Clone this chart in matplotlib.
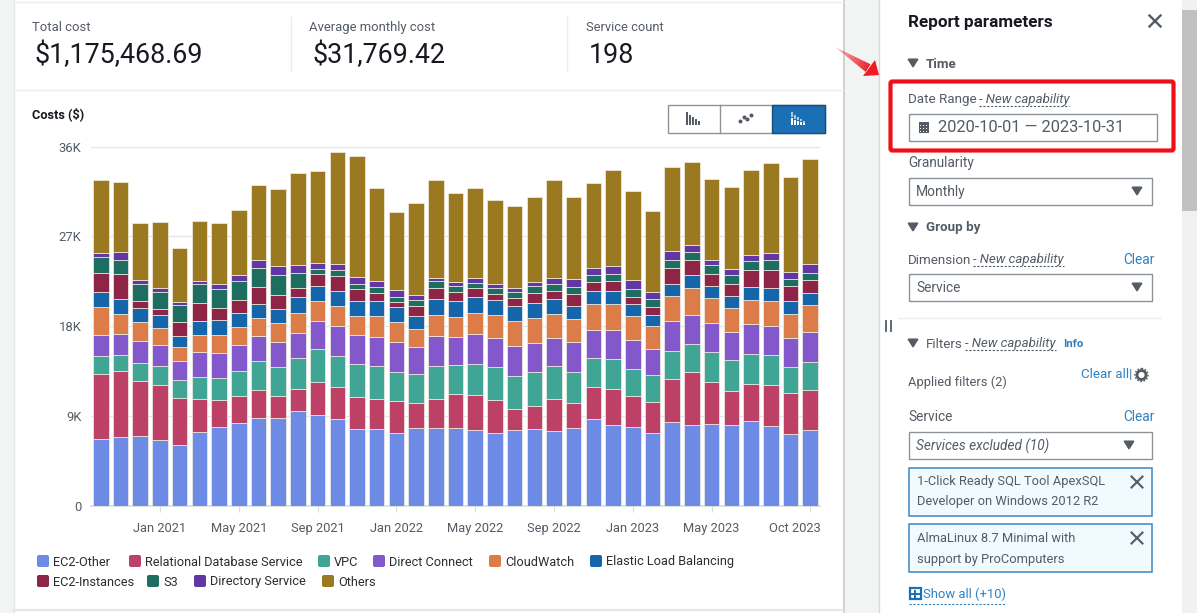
import matplotlib
matplotlib.use("Agg")
import matplotlib.pyplot as plt
import numpy as np
from matplotlib.patches import Rectangle, Polygon, FancyBboxPatch, Circle
from matplotlib.transforms import ScaledTranslation

plt.rcParams['font.family'] = ['Roboto', 'DejaVu Sans']

# monthly costs, Oct 2020 .. Oct 2023
months = ["Oct 2020", "Nov 2020", "Dec 2020", "Jan 2021", "Feb 2021", "Mar 2021", "Apr 2021", "May 2021",
          "Jun 2021", "Jul 2021", "Aug 2021", "Sep 2021", "Oct 2021", "Nov 2021", "Dec 2021", "Jan 2022",
          "Feb 2022", "Mar 2022", "Apr 2022", "May 2022", "Jun 2022", "Jul 2022", "Aug 2022", "Sep 2022",
          "Oct 2022", "Nov 2022", "Dec 2022", "Jan 2023", "Feb 2023", "Mar 2023", "Apr 2023", "May 2023",
          "Jun 2023", "Jul 2023", "Aug 2023", "Sep 2023", "Oct 2023"]
ec2_other = [6670, 6870, 7000, 6570, 6100, 7370, 7900, 8300, 8830, 8830, 9470, 9070, 8670, 7730, 7700, 7270, 7770, 7770, 7770,
             7600, 7270, 7570, 7670, 7470, 7830, 8700, 8070, 7900, 7330, 8400, 8100, 8200, 8100, 8500, 8000, 7200, 7630]
rds = [6570, 6600, 5470, 5570, 4700, 3370, 2730, 2730, 2770, 2200, 2270, 3370, 3200, 3200, 3000, 3230, 2570, 2970, 3470,
       3500, 3370, 2170, 2370, 3230, 2470, 3170, 3630, 3130, 3030, 4330, 5270, 4230, 3430, 3730, 4130, 4100, 4000]
vpc = [1770, 1630, 1830, 1870, 1770, 2130, 2170, 2470, 2930, 2870, 3070, 3230, 3170, 3300, 3300, 2930, 2900, 3300, 2830,
       3130, 3230, 3270, 3370, 3270, 3130, 2900, 3000, 2630, 2700, 2770, 2870, 2930, 3070, 3000, 3000, 2630, 2800]
direct_connect = [2130, 2100, 2170, 2130, 1900, 2530, 2500, 2570, 2430, 2530, 2500, 2830, 2930, 2870, 2930, 2930, 2630, 2930, 2830,
                  2970, 2900, 2970, 2930, 2830, 2930, 2830, 2930, 2930, 2630, 2970, 2870, 2930, 2830, 2970, 2930, 2870, 2930]
cloudwatch = [2730, 2000, 1900, 1700, 1430, 1700, 1830, 1800, 1870, 1870, 1970, 2030, 2070, 1930, 2070, 2030, 1830, 2170, 2000,
              2130, 2330, 2530, 2500, 2430, 2330, 2600, 2630, 2430, 2270, 2570, 2670, 2570, 2400, 2400, 2470, 2400, 2730]
elb = [1500, 1470, 1430, 1230, 1130, 1370, 1500, 1400, 1400, 1400, 1600, 1500, 1500, 1530, 1470, 1500, 1330, 1530, 1570,
       1570, 1500, 1470, 1500, 1500, 1370, 1300, 1270, 1200, 1130, 1200, 1330, 1200, 1200, 1300, 1330, 1330, 1230]
ec2_instances = [2000, 2530, 700, 600, 1430, 1800, 1230, 1300, 1700, 1430, 970, 1170, 1530, 1170, 830, 500, 1000, 1100, 930,
                 870, 570, 870, 970, 770, 1200, 870, 1000, 700, 830, 1570, 1500, 1200, 1230, 1730, 1800, 1500, 1270]
s3 = [1600, 1470, 1700, 1770, 1700, 1900, 1870, 1930, 1900, 1970, 1500, 570, 600, 530, 570, 570, 630, 700, 630,
      570, 600, 600, 730, 700, 700, 730, 730, 770, 770, 830, 830, 830, 870, 870, 970, 730, 770]
directory = [400, 730, 400, 370, 300, 400, 470, 600, 770, 900, 800, 600, 530, 630, 630, 630, 430, 400, 370,
             470, 430, 400, 330, 600, 730, 770, 800, 970, 770, 870, 700, 530, 570, 600, 700, 670, 830]
others = [7300, 7030, 5730, 6670, 5400, 6000, 6170, 6570, 7570, 7700, 9170, 9170, 11200, 12170, 9370, 7800, 9230, 9800, 8970,
          9030, 8470, 8170, 8600, 9870, 8270, 8430, 9630, 8830, 8030, 8400, 8270, 8130, 8230, 8500, 9030, 9530, 10570]

names = ["EC2-Other", "Relational Database Service", "VPC", "Direct Connect", "CloudWatch",
         "Elastic Load Balancing", "EC2-Instances", "S3", "Directory Service", "Others"]
colors = ["#6d8ae4", "#bd4067", "#40a595", "#8358cb", "#dc7c48", "#1565aa", "#8f2546", "#1d6d60", "#6236a5", "#9a7920"]
series = [ec2_other, rds, vpc, direct_connect, cloudwatch, elb, ec2_instances, s3, directory, others]
tick_months = ["Jan 2021", "May 2021", "Sep 2021", "Jan 2022", "May 2022", "Sep 2022", "Jan 2023", "May 2023", "Oct 2023"]
y_ticks = [0, 9000, 18000, 27000, 36000]
y_labels = ["0", "9K", "18K", "27K", "36K"]

W, H = 1200, 613
DARK = "#16191f"
GREY = "#545b64"
BLUE = "#2f80c0"
EDGE = "#8d9499"

fig = plt.figure(figsize=(W / 100, H / 100), dpi=100, facecolor="white")

# whole-figure axes in pixel coordinates for the console around the chart
ui = fig.add_axes([0, 0, 1, 1])
ui.set_xlim(0, W)
ui.set_ylim(H, 0)
ui.axis("off")


def txt(x, y, s, size=10, color=GREY, **kw):
    ui.text(x, y + 1, s, fontsize=size, color=color, va="center", **kw)


def box(x0, y0, x1, y1, face="white", edge="none", lw=1, z=1):
    ui.add_patch(Rectangle((x0, y0), x1 - x0, y1 - y0, facecolor=face, edgecolor=edge, linewidth=lw, zorder=z))


def hline(x0, x1, y, color="#eaeded", lw=1, **kw):
    ui.plot([x0, x1], [y, y], color=color, lw=lw, **kw)


def tri(x, y, size=4.8, color="#545b64"):
    ui.add_patch(Polygon([(x - size, y - size * 0.8), (x + size, y - size * 0.8), (x, y + size * 0.8)],
                         closed=True, color=color, zorder=3))


def cross(x, y, r=5.5, color=GREY, lw=1.5):
    ui.plot([x - r, x + r], [y - r, y + r], color=color, lw=lw, zorder=3)
    ui.plot([x - r, x + r], [y + r, y - r], color=color, lw=lw, zorder=3)


# page background
box(0, 0, 14, H, "#f2f3f3", z=0)
box(843, 0, 879, H, "#f2f3f3", z=0)
ui.plot([14, 14], [0, H], color="#e4e7e7", lw=1)
ui.plot([843.5, 843.5], [0, H], color="#c8cccc", lw=1.2)
ui.plot([879, 879], [0, H], color="#d5dbdb", lw=1)
hline(14, 843, 1.5)
hline(14, 843, 90)
hline(14, 843, 610, color="#e4e7e7", lw=1.5)

# scrollbar
box(1182, 0, 1197, H, "#f1f1f1", z=0)
box(1182, 10, 1197, 211, "#c1c1c1", z=1)

# summary row
ui.plot([291, 291], [17, 71], color="#eaeded", lw=1)
ui.plot([566.5, 566.5], [17, 71], color="#eaeded", lw=1)
txt(32, 26.5, "Total cost", 9.4)
txt(309, 26.5, "Average monthly cost", 9.4)
txt(586, 26.5, "Service count", 9.3)
txt(35, 54.5, "$1,175,468.69", 19.4, DARK)
txt(312, 54.5, "$31,769.42", 19.4, DARK)
txt(589, 54.5, "198", 19.4, DARK)
txt(32, 113.5, "Costs ($)", 9.2, DARK, fontweight="bold")

# chart type toggle
box(667.5, 104.5, 825, 133, "white", EDGE)
ui.plot([720, 720], [104.5, 133], color=EDGE, lw=1)
box(772, 104.5, 825, 133, "#1a6fb5", "#14507f")
for dx, h in zip([0, 3, 6, 9, 12], [13, 10, 8, 6, 4]):
    box(686 + dx, 125 - h, 688 + dx, 125, "#545b64", z=3)
    box(791 + dx, 125 - h * 0.55, 793 + dx, 125, "white", z=3)
    box(791 + dx, 125 - h, 793 + dx, 125 - h * 0.6, "#a8cbe6", z=3)
ui.scatter([740, 744, 747, 751], [121, 117, 119, 115], s=3.5, color="#545b64", zorder=3)

# legend row, manual because the rows do not share columns
legend_pos = [(37, 561), (129, 561), (318, 561), (373, 561), (489, 561), (590, 561),
              (37, 581), (147, 581), (194, 581), (322, 581)]
for (lx, ly), name, col in zip(legend_pos, names, colors):
    ui.add_patch(FancyBboxPatch((lx + 1, ly - 5), 10, 10, boxstyle="round,pad=1,rounding_size=2",
                                facecolor=col, edgecolor="none", zorder=3))
    txt(lx + 16, ly, name, 9.2, "#2a2e33")

# right panel
txt(908, 21, "Report parameters", 12.3, DARK, fontweight="bold")
cross(1155, 21, r=5.5, color=GREY, lw=1.7)

tri(913, 63)
txt(926, 63, "Time", 9.6, GREY, fontweight="bold")
txt(908, 99, "Date Range", 9.6)
txt(979, 99, "- New capability", 9.5, style="italic")
hline(979, 1069, 106, color=GREY, lw=0.8, linestyle=(0, (2, 1.5)))
box(908.5, 113.5, 1156.5, 141, "white", EDGE)
box(918.5, 122, 929, 133, "#545b64", z=3)
for gx in range(920, 928, 3):
    for gy in range(125, 132, 3):
        box(gx, gy, gx + 1.4, gy + 1.4, "white", z=4)
txt(938, 127, "2020-10-01 \u2014 2023-10-31", 11.8)
ui.add_patch(FancyBboxPatch((890.5, 81.5), 283, 69, boxstyle="round,pad=0,rounding_size=2",
                            facecolor="none", edgecolor="#ee0f16", linewidth=3, zorder=5))

txt(908, 162, "Granularity", 9.8)
box(908.5, 177.5, 1152, 205, "white", EDGE)
txt(916, 191, "Monthly", 10)
tri(1137, 191)

tri(913, 227)
txt(926, 227, "Group by", 9.6, GREY, fontweight="bold")
txt(908, 259, "Dimension", 9.6)
txt(973, 259, "- New capability", 9.5, style="italic")
hline(973, 1064, 266, color=GREY, lw=0.8, linestyle=(0, (2, 1.5)))
txt(1123, 259, "Clear", 9.8, BLUE)
box(908.5, 273.5, 1152, 301, "white", EDGE)
txt(916, 287, "Service", 9.8)
tri(1137, 287)
hline(899, 1161, 318)

ui.plot([886, 886], [321, 331], color=GREY, lw=1.3)
ui.plot([890.5, 890.5], [321, 331], color=GREY, lw=1.3)

tri(913, 343)
txt(926, 343, "Filters", 9.6)
txt(965, 343, "- New capability", 9.5, style="italic")
hline(965, 1056, 350, color=GREY, lw=0.8, linestyle=(0, (2, 1.5)))
txt(1063, 343, "Info", 8.2, BLUE, fontweight="bold")
txt(908, 381, "Applied filters (2)", 9.3)
txt(1081, 374, "Clear all|", 9.6, BLUE)
ui.add_patch(Circle((1141.5, 375), 4.5, facecolor="none", edgecolor=GREY, lw=2, zorder=3))
ui.add_patch(Circle((1141.5, 375), 6.5, facecolor="none", edgecolor=GREY, lw=1, linestyle=(0, (1.2, 1.2)), zorder=3))

txt(908, 416, "Service", 9.8)
txt(1123, 416, "Clear", 9.8, BLUE)
box(908.5, 432, 1152, 459, "white", EDGE)
txt(916, 445, "Services excluded (10)", 9.8, style="italic")
tri(1129, 445)

box(908.5, 468, 1152, 516, "#f1faff", "#4a90c8", lw=1.2)
txt(917, 481, "1-Click Ready SQL Tool ApexSQL", 9.3)
txt(917, 501, "Developer on Windows 2012 R2", 9.3)
cross(1137, 482)
box(908.5, 524, 1152, 572, "#f1faff", "#4a90c8", lw=1.2)
txt(917, 538, "AlmaLinux 8.7 Minimal with", 9.3)
txt(917, 558, "support by ProComputers", 9.3)
cross(1137, 538)

box(909.5, 588, 921, 599, "white", "#1a6fb5", lw=1.6, z=3)
hline(912, 918.5, 593.5, color="#1a6fb5", lw=1.4, zorder=4)
ui.plot([915.3, 915.3], [590.5, 596.5], color="#1a6fb5", lw=1.4, zorder=4)
txt(923, 593, "Show all (+10)", 9.4, BLUE)
hline(909, 1005, 604, color=BLUE, lw=0.8, linestyle=(0, (2, 1.5)))

# red arrow, fading towards the tail
steps = 16
for i in range(steps):
    f0, f1 = i / steps, (i + 1) / steps
    x0, y0 = 835 + 33 * f0, 47 + 21 * f0
    x1, y1 = 835 + 33 * f1, 47 + 21 * f1
    w0, w1 = 4.5 * f0, 4.5 * f1
    ui.add_patch(Polygon([(x0 - w0 * 0.54, y0 + w0 * 0.84), (x0 + w0 * 0.54, y0 - w0 * 0.84),
                          (x1 + w1 * 0.54, y1 - w1 * 0.84), (x1 - w1 * 0.54, y1 + w1 * 0.84)],
                         closed=True, facecolor="#ee1c25", edgecolor="none", alpha=0.2 + 0.8 * f1, zorder=5))
ui.add_patch(Polygon([(879, 75), (863, 76), (875, 60)], closed=True, facecolor="#ee1c25", edgecolor="none", zorder=5))

# the chart itself
left, right, top, bottom = 91, 820, 146.5, 505.7
ax = fig.add_axes([left / W, 1 - bottom / H, (right - left) / W, (bottom - top) / H])
ax.patch.set_alpha(0)

x = np.arange(len(months))
base = np.zeros(len(months))
for values, col in zip(series, colors):
    ax.bar(x, values, bottom=base, width=0.79, color=col, edgecolor="#f4f0e6", linewidth=0.5, zorder=3)
    base = base + np.array(values)

ax.set_xlim(-0.5, 36.5)
ax.set_ylim(0, 35950)
ax.set_yticks(y_ticks)
ax.set_yticklabels(y_labels, fontsize=9.4, color=GREY)
ax.set_xticks([months.index(m) for m in tick_months])
ax.set_xticklabels(tick_months, fontsize=9.3, color=GREY)
ax.tick_params(axis="y", length=0, pad=7)
ax.tick_params(axis="x", length=4, width=0.8, color="#d5dbdb", pad=7.5)
ax.grid(axis="y", color="#e3e7e7", lw=1, zorder=0)
ax.set_axisbelow(True)
for side in ["top", "right", "left"]:
    ax.spines[side].set_visible(False)
ax.spines["bottom"].set_color("#d5dbdb")
ax.spines["bottom"].set_linewidth(1.2)

# last label is pushed left so it stays inside the plot
last = ax.get_xticklabels()[-1]
last.set_transform(last.get_transform() + ScaledTranslation(-15 / 100, 0, fig.dpi_scale_trans))

fig.savefig("out.png", dpi=100)
